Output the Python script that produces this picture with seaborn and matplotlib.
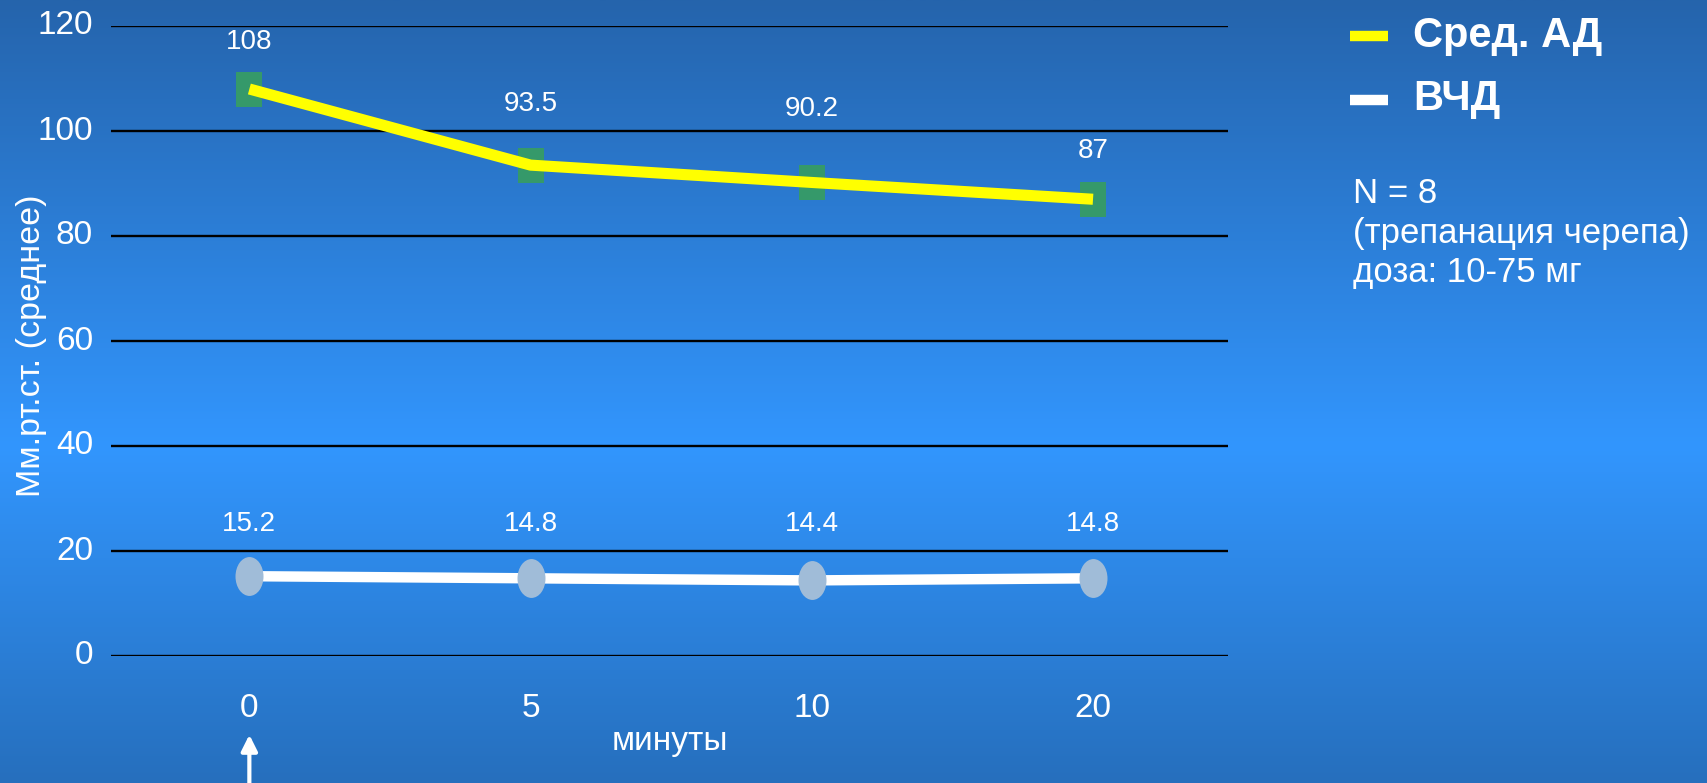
import numpy as np
import pandas as pd
import matplotlib
matplotlib.use("Agg")
import matplotlib.pyplot as plt
from matplotlib.path import Path
from matplotlib.lines import Line2D
from matplotlib.transforms import ScaledTranslation
import seaborn as sns

# Data
minutes = ["0", "5", "10", "20"]
mean_bp = [108, 93.5, 90.2, 87]
icp = [15.2, 14.8, 14.4, 14.8]
bp_label_lift = [7.6, 10.3, 12.75, 7.9]
icp_label_lift = [8.7, 9.1, 9.5, 9.1]
yticks = [0, 20, 40, 60, 80, 100, 120]
legend_names = ["Сред. АД", "ВЧД"]
notes = ["N = 8", "(трепанация черепа)", "доза: 10-75 мг"]

sns.set_theme(style="white")
plt.rcParams["font.family"] = ["Liberation Sans", "DejaVu Sans"]

df = pd.DataFrame({"min": minutes, "bp": mean_bp, "icp": icp})

fig = plt.figure(figsize=(17.07, 7.83), dpi=100)

# vertical blue gradient backdrop
bg = fig.add_axes([0, 0, 1, 1], zorder=-10)
stops_t = [0.0, 0.57, 1.0]
stops_c = np.array([[37, 100, 172], [50, 150, 254], [38, 111, 189]]) / 255.0
t = np.linspace(0, 1, 400)
grad = np.stack([np.interp(t, stops_t, stops_c[:, k]) for k in range(3)], axis=1)
bg.imshow(grad[:, None, :], aspect="auto", extent=[0, 1, 0, 1], interpolation="bilinear")
bg.axis("off")

ax = fig.add_axes([111 / 1707, 1 - 656 / 783, 1117 / 1707, 630 / 783], zorder=1)
ax.set_facecolor("none")

# tall rectangle and ellipse markers
rect = Path([(-0.371, -0.5), (0.371, -0.5), (0.371, 0.5), (-0.371, 0.5), (-0.371, -0.5)],
            [Path.MOVETO, Path.LINETO, Path.LINETO, Path.LINETO, Path.CLOSEPOLY])
circ = Path.unit_circle()
ell = Path(circ.vertices * np.array([0.72, 1.0]), circ.codes)

sns.scatterplot(data=df, x="min", y="bp", marker=rect, s=25.2 ** 2, color="#35996a",
                linewidth=0, ax=ax, zorder=3, clip_on=False)
sns.lineplot(data=df, x="min", y="bp", color="#ffff00", lw=8, ax=ax, zorder=4,
             clip_on=False, solid_capstyle="butt")
sns.lineplot(data=df, x="min", y="icp", color="white", lw=7.5, ax=ax, zorder=4,
             clip_on=False, solid_capstyle="butt")
sns.scatterplot(data=df, x="min", y="icp", marker=ell, s=28 ** 2, color="#a0bcd8",
                linewidth=0, ax=ax, zorder=5, clip_on=False)

for i, (v, d) in enumerate(zip(mean_bp, bp_label_lift)):
    ax.text(i, v + d, f"{v:g}", ha="center", va="baseline", color="white", fontsize=20)
for i, (v, d) in enumerate(zip(icp, icp_label_lift)):
    ax.text(i, v + d, f"{v:g}", ha="center", va="baseline", color="white", fontsize=20)

ax.set_xlim(-0.492, 3.48)
ax.set_ylim(0, 120)
ax.set_yticks(yticks)
ax.yaxis.grid(True, color="black", lw=1.7)
ax.xaxis.grid(False)
ax.set_axisbelow(True)
for s in ax.spines.values():
    s.set_visible(False)
ax.tick_params(axis="y", length=0, pad=13, labelsize=24, labelcolor="white")
ax.tick_params(axis="x", length=0, pad=26.5, labelsize=24, labelcolor="white")
lift = ScaledTranslation(0, 3.5 / 100, fig.dpi_scale_trans)
for lab in ax.get_yticklabels():
    lab.set_transform(lab.get_transform() + lift)

ax.set_xlabel("минуты", fontsize=24, color="white", va="center")
ax.xaxis.set_label_coords(0.5, -0.136)
ax.set_ylabel("Мм.рт.ст. (среднее)", fontsize=24.5, color="white", va="center")
ax.yaxis.set_label_coords(-0.0715, 0.493)

# arrow marking the injection moment
ax.annotate("", xy=(0, -0.125), xycoords=("data", "axes fraction"),
            xytext=(0, -0.21), textcoords=("data", "axes fraction"),
            arrowprops=dict(arrowstyle="-|>", color="white", lw=3, mutation_scale=24,
                            shrinkA=0, shrinkB=0), annotation_clip=False)

# legend drawn on the figure
W, H = 1707, 783
for name, col, yc, yb in zip(legend_names, ["#ffff00", "white"], [36, 99.5], [47, 110]):
    fig.add_artist(Line2D([1350 / W, 1388 / W], [1 - yc / H, 1 - yc / H], color=col, lw=7.5,
                          solid_capstyle="butt"))
    fig.text(1413 / W, 1 - yb / H, name, fontsize=30, fontweight="bold", color="white",
             ha="left", va="baseline")

for note, yb in zip(notes, [203, 243, 282]):
    fig.text(1353 / W, 1 - yb / H, note, fontsize=25, color="white", ha="left", va="baseline")

fig.savefig("out.png", dpi=100)
